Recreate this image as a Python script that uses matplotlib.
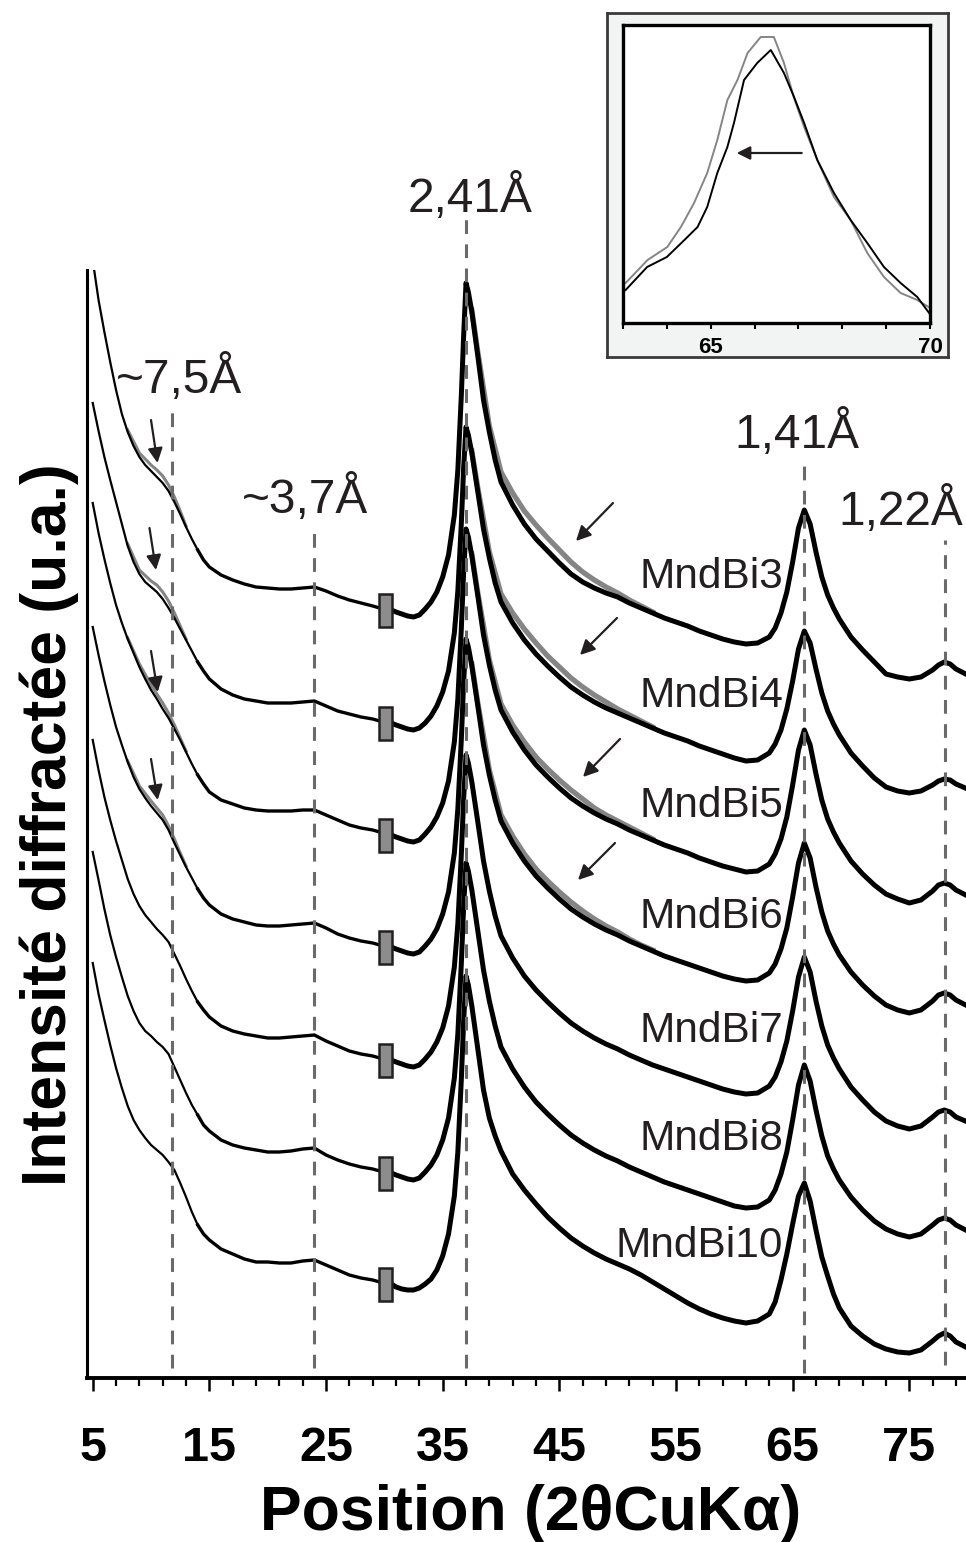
import numpy as np
import matplotlib
matplotlib.use('Agg')
import matplotlib.pyplot as plt
from matplotlib.patches import Rectangle
from matplotlib.ticker import FixedLocator, NullFormatter, NullLocator

plt.rcParams['font.family'] = ['Liberation Sans', 'DejaVu Sans']

# ------------------------------------------------------------------ data
samples = ['MndBi3', 'MndBi4', 'MndBi5', 'MndBi6', 'MndBi7', 'MndBi8', 'MndBi10']

# 2theta grid (deg) - low angle part (before the break) and high angle part
two_theta_low = [5.0, 5.5, 6.0, 6.5, 7.0, 7.5, 8.0, 8.5, 9.0, 9.5, 10.0, 10.5, 11.0, 11.5,
                 12.0, 12.5, 13.0, 13.5, 14.0, 14.5, 15.0, 16.0, 17.0, 18.0, 19.0, 20.0,
                 21.0, 22.0, 23.0, 24.0, 25.0, 26.0, 27.0, 28.0, 29.0, 29.6]
two_theta_high = [30.6, 31.0, 31.5, 32.0, 32.5, 33.0, 33.5, 34.0, 34.5, 35.0,
                  35.5, 36.0, 36.3, 36.6, 36.8, 37.0, 37.2, 37.5, 38.0, 38.5,
                  39.0, 39.5, 40.0, 41.0, 42.0, 43.0, 44.0, 45.0, 46.0, 47.0,
                  48.0, 49.0, 50.0, 51.0, 52.0, 53.0, 54.0, 55.0, 56.0, 57.0,
                  58.0, 59.0, 60.0, 61.0, 62.0, 63.0, 63.5, 64.0, 64.5, 65.0,
                  65.5, 66.0, 66.5, 67.0, 67.5, 68.0, 68.5, 69.0, 70.0, 71.0,
                  72.0, 73.0, 74.0, 75.0, 76.0, 77.0, 77.5, 78.0, 78.5, 79.0, 80.0]

# intensities (arbitrary units, relative to each pattern's own baseline)
mndbi3_low = [350, 310, 278, 248, 220, 196, 178, 164, 153, 145, 139, 133, 127, 119, 108, 96,
              83, 71, 60, 50, 43, 35, 30, 26, 23, 22, 21, 21, 22, 23, 19, 14, 10, 7, 4, 2]
mndbi4_low = [320, 292, 266, 243, 221, 199, 177, 161, 149, 141, 136, 131, 124, 115, 105, 94,
              83, 72, 61, 52, 44, 34, 28, 24, 22, 20, 20, 20, 21, 22, 17, 12, 9, 6, 4, 2]
mndbi5_low = [332, 302, 276, 252, 230, 212, 196, 182, 168, 156, 145, 136, 126, 117, 106, 95,
              83, 71, 60, 51, 43, 35, 31, 27, 25, 24, 24, 24, 25, 25, 20, 15, 10, 7, 5, 3]
mndbi6_low = [320, 292, 266, 242, 220, 202, 185, 170, 158, 149, 141, 134, 127, 117, 104, 92,
              80, 69, 58, 49, 42, 33, 28, 25, 22, 21, 21, 22, 23, 24, 19, 13, 9, 6, 4, 2]
mndbi7_low = [320, 290, 263, 240, 219, 200, 181, 166, 154, 145, 138, 131, 125, 118, 106, 94,
              81, 69, 58, 50, 43, 34, 29, 26, 24, 22, 22, 23, 24, 25, 19, 14, 9, 6, 4, 2]
mndbi8_low = [321, 293, 264, 238, 216, 196, 177, 162, 150, 142, 137, 131, 126, 119, 106, 93,
              80, 68, 58, 48, 42, 33, 28, 25, 23, 21, 21, 22, 24, 25, 18, 13, 9, 6, 4, 2]
mndbi10_low = [321, 290, 264, 239, 216, 196, 178, 164, 154, 146, 139, 134, 129, 122, 114, 101,
               87, 72, 59, 50, 44, 35, 30, 25, 22, 22, 21, 21, 23, 24, 19, 14, 9, 6, 4, 2]

mndbi3_high = [0, -2, -4, -6, -7, -5, 1, 8, 18, 33,
               55, 95, 140, 215, 275, 327, 318, 298, 255, 210,
               178, 150, 128, 105, 86, 71, 59, 47, 36, 28,
               22, 17, 13, 7, 2, -3, -8, -12, -16, -21,
               -25, -29, -32, -34, -33, -27, -18, -3, 18, 48,
               82, 100, 86, 58, 33, 15, 2, -9, -27, -40,
               -52, -64, -67, -69, -67, -60, -55, -52, -54, -59, -65]
mndbi4_high = [0, -2, -4, -6, -7, -5, 0, 7, 17, 31,
               52, 90, 132, 200, 256, 296, 288, 270, 232, 194,
               165, 140, 121, 100, 83, 69, 57, 46, 36, 28,
               21, 15, 10, 5, 0, -5, -10, -14, -18, -23,
               -27, -31, -35, -38, -37, -30, -21, -7, 14, 42,
               74, 92, 80, 54, 30, 12, -1, -12, -30, -43,
               -55, -64, -68, -70, -68, -62, -58, -56, -57, -61, -66]
mndbi5_high = [0, -2, -4, -6, -7, -5, 1, 8, 18, 32,
               54, 93, 136, 207, 264, 306, 298, 279, 240, 200,
               170, 145, 125, 103, 85, 70, 58, 47, 37, 29,
               22, 16, 11, 5, 0, -5, -10, -14, -18, -23,
               -27, -31, -34, -37, -36, -29, -19, -4, 18, 50,
               85, 105, 90, 61, 35, 16, 3, -8, -26, -39,
               -50, -59, -64, -68, -65, -56, -50, -48, -50, -55, -61]
mndbi6_high = [0, -2, -4, -6, -7, -5, 1, 8, 18, 33,
               55, 94, 138, 208, 266, 308, 300, 281, 242, 202,
               172, 147, 126, 104, 86, 71, 59, 48, 38, 30,
               23, 17, 12, 6, 1, -4, -9, -13, -17, -21,
               -25, -29, -32, -34, -33, -26, -17, -2, 19, 50,
               84, 104, 89, 60, 35, 16, 3, -8, -25, -38,
               -49, -58, -63, -66, -63, -54, -48, -46, -48, -53, -59]
mndbi7_high = [0, -2, -4, -6, -7, -5, 1, 8, 18, 32,
               54, 93, 136, 206, 262, 305, 297, 278, 239, 199,
               169, 144, 124, 102, 84, 70, 58, 47, 37, 29,
               22, 16, 11, 5, 0, -5, -9, -13, -17, -21,
               -25, -29, -32, -34, -33, -26, -17, -2, 19, 49,
               83, 103, 88, 59, 34, 15, 2, -9, -27, -40,
               -52, -61, -66, -69, -66, -57, -52, -50, -52, -57, -62]
mndbi8_high = [0, -2, -4, -6, -7, -5, 1, 8, 18, 33,
               55, 95, 139, 210, 268, 310, 302, 283, 243, 203,
               172, 147, 126, 104, 86, 71, 59, 48, 38, 30,
               23, 17, 12, 6, 1, -4, -9, -13, -17, -21,
               -25, -29, -33, -35, -34, -27, -17, -1, 21, 53,
               88, 108, 92, 63, 37, 17, 4, -7, -24, -37,
               -48, -56, -61, -64, -61, -52, -47, -45, -47, -52, -58]
mndbi10_high = [0, -3, -5, -6, -6, -4, 0, 5, 14, 28,
                50, 88, 132, 205, 264, 308, 299, 278, 236, 194,
                166, 148, 133, 110, 94, 80, 67, 56, 46, 38,
                31, 25, 20, 15, 9, 2, -5, -12, -19, -25,
                -30, -34, -37, -39, -37, -30, -18, 4, 30, 60,
                88, 101, 83, 54, 27, 8, -10, -24, -42, -52,
                -60, -65, -68, -69, -66, -57, -52, -49, -52, -58, -64]

# second (grey) measurement where it departs from the black one
grey_theta_low = [8.0, 9.0, 10.0, 10.5, 11.0, 11.5, 12.0, 12.5, 13.0]
grey_theta_high = [37.5, 38.0, 39.0, 40.0, 41.0, 42.0, 43.0, 44.0, 45.0, 46.0, 47.0,
                   48.0, 49.0, 50.0, 51.0, 52.0, 53.0]
grey_mndbi3_low = [180, 157, 145, 140, 134, 125, 113, 99, 84]
grey_mndbi4_low = [179, 153, 142, 138, 131, 122, 110, 97, 84]
grey_mndbi5_low = [197, 171, 150, 141, 132, 122, 110, 97, 84]
grey_mndbi6_low = [186, 161, 146, 139, 132, 121, 108, 94, 81]
grey_mndbi3_high = [300, 259, 184, 138, 117, 99, 85, 72, 60, 48, 38, 30, 23, 17, 10, 4, -2]
grey_mndbi4_high = [272, 236, 171, 129, 110, 94, 80, 67, 56, 45, 36, 28, 21, 14, 8, 2, -4]
grey_mndbi5_high = [281, 243, 175, 131, 110, 93, 78, 66, 55, 45, 36, 27, 20, 14, 8, 2, -4]
grey_mndbi6_high = [283, 245, 177, 132, 111, 93, 78, 66, 55, 45, 36, 28, 21, 15, 8, 2, -3]

# reflections marked by dashed lines
peak_labels = ['~7,5Å', '~3,7Å', '2,41Å', '1,41Å', '1,22Å']
peak_theta = [11.8, 24.0, 37.0, 66.0, 78.1]

# inset: zoom on the 1,41 Å reflection
inset_theta_black = [63.06, 63.55, 64.0, 64.4, 64.7, 64.92, 65.15, 65.38, 65.53, 65.76, 66.06,
                     66.37, 66.67, 66.9, 67.13, 67.43, 67.81, 68.19, 68.57, 68.95, 69.33,
                     69.71, 69.98]
inset_int_black = [33, 56, 66, 83, 96, 116, 150, 176, 200, 243, 260, 273, 250, 226, 200, 163,
                   130, 103, 80, 56, 40, 26, 10]
inset_theta_grey = [63.06, 63.56, 64.01, 64.32, 64.62, 64.92, 65.15, 65.38, 65.61, 65.84, 66.14,
                    66.44, 66.67, 66.9, 67.13, 67.43, 67.81, 68.19, 68.57, 68.95, 69.33,
                    69.71, 69.97]
inset_int_grey = [40, 63, 76, 96, 120, 150, 183, 223, 243, 270, 286, 286, 260, 225, 196, 163,
                  126, 103, 70, 46, 30, 23, 16]

# ------------------------------------------------------------------ layout
W, H = 966, 1542
DPI = 100
TXT = '#231f20'


def fx(px):
    return px / W


def fy(py):
    return 1 - py / H


fig = plt.figure(figsize=(W / DPI, H / DPI), dpi=DPI)
ax = fig.add_axes([fx(87), fy(1378), (966 - 87) / W, (1378 - 270) / H])
ax.set_xlim(4.51, 79.86)
ax.set_ylim(0, 1108)

offsets = [768, 655, 543, 431, 318, 205, 94]
lows = [mndbi3_low, mndbi4_low, mndbi5_low, mndbi6_low, mndbi7_low, mndbi8_low, mndbi10_low]
highs = [mndbi3_high, mndbi4_high, mndbi5_high, mndbi6_high, mndbi7_high, mndbi8_high,
         mndbi10_high]
grey_lows = [grey_mndbi3_low, grey_mndbi4_low, grey_mndbi5_low, grey_mndbi6_low]
grey_highs = [grey_mndbi3_high, grey_mndbi4_high, grey_mndbi5_high, grey_mndbi6_high]

tl = np.array(two_theta_low)
th = np.array(two_theta_high)
m1 = tl <= 14.0
m2 = tl >= 14.0
for k, off in enumerate(offsets):
    lo = np.array(lows[k]) + off
    hi = np.array(highs[k]) + off
    if k < len(grey_lows):
        ax.plot(grey_theta_low, np.array(grey_lows[k]) + off, color='#858585', lw=2.2,
                zorder=2, solid_joinstyle='round')
        ax.plot(grey_theta_high, np.array(grey_highs[k]) + off, color='#858585', lw=3.8,
                zorder=2, solid_joinstyle='round')
    ax.plot(tl[m1], lo[m1], color='black', lw=1.6, zorder=3, solid_joinstyle='round')
    ax.plot(tl[m2], lo[m2], color='black', lw=2.4, zorder=3, solid_joinstyle='round')
    ax.plot(th, hi, color='black', lw=3.6, zorder=3, solid_joinstyle='round')
    ax.add_patch(Rectangle((29.55, off - 16.5), 1.1, 33, facecolor='#8c8c8c',
                           edgecolor=TXT, lw=1.8, zorder=6))

# dashed reference lines (y extents in axis units)
dash_bottom = [10, 10, 10, 5, 13]
dash_top = [971, 846, 1160, 913, 838]
for xp, y0, y1 in zip(peak_theta, dash_bottom, dash_top):
    ax.plot([xp, xp], [y0, y1], color='#6a6a6a', lw=2.2, dashes=(4.5, 3.4), zorder=4,
            clip_on=False)

# peak labels (figure pixel positions: x, baseline y, alignment)
peak_label_pos = [(179, 393, 'center'), (305, 513, 'center'), (470, 212, 'center'),
                  (797, 448, 'center'), (838, 525, 'left')]
for lab, (px, py, ha) in zip(peak_labels, peak_label_pos):
    fig.text(fx(px), fy(py), lab, fontsize=34.5, color=TXT, ha=ha, va='baseline')

# sample labels
sample_baselines = [588, 707, 817, 928, 1042, 1150, 1257]
for lab, py in zip(samples, sample_baselines):
    fig.text(fx(783), fy(py), lab, fontsize=30.5, color=TXT, ha='right', va='baseline',
             zorder=10)

# arrows
arrow_list = [((151, 420), (157.5, 463)), ((149.5, 528), (156, 570)),
              ((151, 651), (157.7, 692)), ((151, 759), (157.7, 800)),
              ((613, 503), (576, 541)), ((617, 618), (580, 655)),
              ((620, 739), (583, 777)), ((615, 843), (578, 880))]
for (tx, ty), (hx, hy) in arrow_list:
    ax.annotate('', xy=(hx, H - hy), xytext=(tx, H - ty), xycoords='figure pixels',
                textcoords='figure pixels',
                arrowprops=dict(arrowstyle='-|>', color=TXT, lw=1.6, mutation_scale=22,
                                shrinkA=0, shrinkB=0), zorder=12)

# axes styling
for s in ['top', 'right']:
    ax.spines[s].set_visible(False)
ax.spines['left'].set_linewidth(2.2)
ax.spines['bottom'].set_linewidth(2.8)
ax.yaxis.set_major_locator(NullLocator())
ax.xaxis.set_major_locator(FixedLocator(list(range(5, 80, 10))))
ax.xaxis.set_minor_locator(FixedLocator([v for v in range(5, 80, 2) if (v - 5) % 10 != 0]))
ax.xaxis.set_minor_formatter(NullFormatter())
ax.tick_params(axis='x', which='major', direction='out', length=9.5, width=1.8, pad=25,
               labelsize=35)
ax.tick_params(axis='x', which='minor', direction='out', length=6, width=1.6)
for t in ax.get_xticklabels():
    t.set_fontweight('bold')

fig.text(fx(531), fy(1530), 'Position (2θCuKα)', fontsize=45, fontweight='bold',
         ha='center', va='baseline')
fig.text(fx(66), fy(825), 'Intensité diffractée (u.a.)', fontsize=45, fontweight='bold',
         ha='center', va='baseline', rotation=90, rotation_mode='anchor')

# ------------------------------------------------------------------ inset
axo = fig.add_axes([fx(607), fy(357), 341 / W, 344 / H])
axo.set_facecolor('#f2f4f3')
axo.set_xticks([])
axo.set_yticks([])
for s in axo.spines.values():
    s.set_linewidth(2.0)
    s.set_edgecolor('#3a3a3a')

axi = fig.add_axes([fx(623), fy(323), (930 - 623) / W, (323 - 25) / H])
axi.set_xlim(63, 70)
axi.set_ylim(0, 298)
axi.plot(inset_theta_grey, inset_int_grey, color='#858585', lw=1.4)
axi.plot(inset_theta_black, inset_int_black, color='black', lw=1.4)
for s in axi.spines.values():
    s.set_linewidth(2.4)
axi.yaxis.set_major_locator(NullLocator())
axi.xaxis.set_major_locator(FixedLocator([65, 70]))
axi.xaxis.set_minor_locator(FixedLocator([63, 64, 66, 67, 68, 69]))
axi.xaxis.set_minor_formatter(NullFormatter())
axi.tick_params(axis='x', which='both', direction='out', length=4, width=1.5, pad=6,
                labelsize=16)
for t in axi.get_xticklabels():
    t.set_fontweight('bold')
axi.annotate('', xy=(736.7, H - 153), xytext=(801.7, H - 153), xycoords='figure pixels',
             textcoords='figure pixels',
             arrowprops=dict(arrowstyle='-|>', color=TXT, lw=1.6, mutation_scale=20,
                             shrinkA=0, shrinkB=0))

fig.savefig('out.png', dpi=DPI)
